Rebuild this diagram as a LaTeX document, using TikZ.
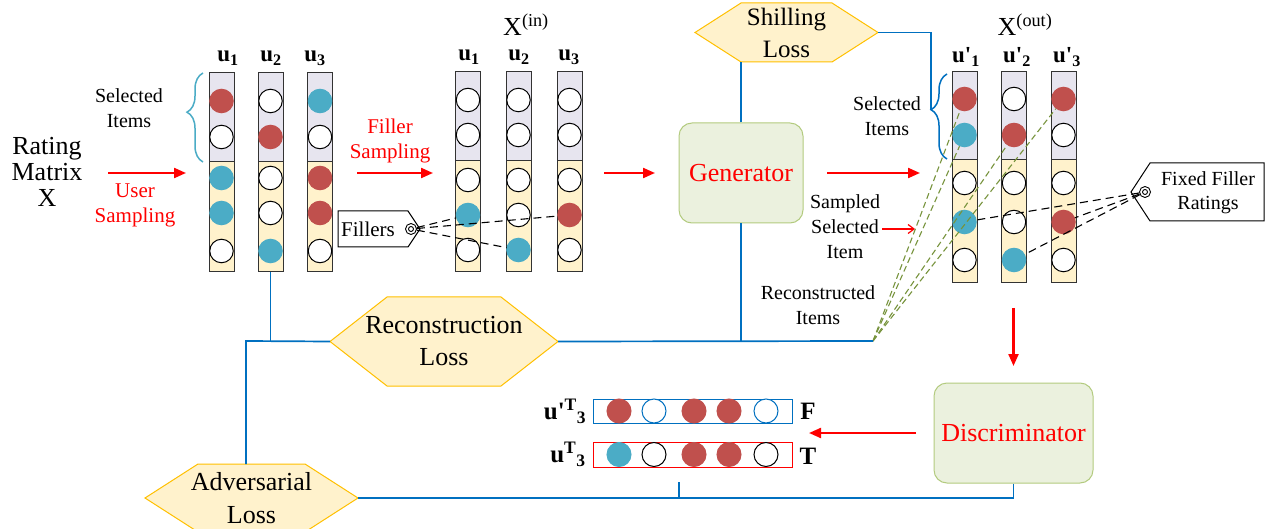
\documentclass[tikz,border=0pt]{standalone}
\usepackage{fontspec}
\setmainfont{Liberation Serif}
\usetikzlibrary{arrows.meta,decorations.pathreplacing,calc}
\pgfdeclarelayer{bg}
\pgfsetlayers{bg,main}
\definecolor{cred}{HTML}{C0504D}
\definecolor{ccyan}{HTML}{4BACC6}
\definecolor{cgray}{HTML}{E7E5EF}
\definecolor{cyel}{HTML}{FFF2CC}
\definecolor{cgold}{HTML}{FFC000}
\definecolor{cblue}{HTML}{0070C0}
\definecolor{cbrace}{HTML}{4BACC6}
\definecolor{cgenf}{HTML}{EBF1DE}
\definecolor{cgend}{HTML}{B3CB7F}
\definecolor{cdash}{HTML}{77933C}
\definecolor{cbord}{HTML}{333333}
\newcommand\myfs[2]{\fontsize{#1}{#2}\selectfont}
\newcommand\hexbg[2]{\begin{pgfonlayer}{bg}\path[hexs] (#1.west) -- ([xshift=#2]#1.north west) -- ([xshift=-#2]#1.north east) -- (#1.east) -- ([xshift=-#2]#1.south east) -- ([xshift=#2]#1.south west) -- cycle;\end{pgfonlayer}}
\newcommand\mkcol[6]{%
  \fill[cgray] (#2-12.5,#3) rectangle (#2+12.5,#4);
  \fill[cyel] (#2-12.5,#4) rectangle (#2+12.5,#5);
  \draw[colborder] (#2-12.5,#3) rectangle (#2+12.5,#5);
  \draw[colborder] (#2-12.5,#4) -- (#2+12.5,#4);
  \coordinate (#1bot) at (#2,#5);
  \foreach \i/\yy/\f/\d in {#6} {\node[ball,fill=\f,draw=\d] (#1\i) at (#2,\yy) {};}
}
\tikzset{
  ball/.style={circle,minimum size=23.5pt,inner sep=0pt,line width=1pt},
  colborder/.style={draw=cbord,line width=1pt},
  redarrow/.style={draw=red,line width=2.2pt,-{Triangle[length=12pt,width=10pt]}},
  thinarrow/.style={draw=red,line width=1.2pt,-{Straight Barb[length=6pt,width=9pt]}},
  bluel/.style={draw=cblue,line width=1.7pt},
  hexs/.style={fill=cyel,draw=cgold,line width=1pt},
  hexnode/.style={rectangle,inner sep=0pt,outer sep=0pt,align=center,font=\myfs{25}{32}},
  modbox/.style={rectangle,rounded corners=13pt,fill=cgenf,draw=cgend,line width=1pt,text=red,font=\myfs{26}{26}},
  lbl/.style={align=center,font=\myfs{20}{25}},
  redlbl/.style={align=center,text=red,font=\myfs{21}{25}},
  ulbl/.style={font=\bfseries\myfs{23}{23},inner sep=0pt},
  blkdash/.style={draw=black,line width=1.1pt,dash pattern=on 8pt off 5pt},
  gdash/.style={draw=cdash,line width=1.1pt,dash pattern=on 6pt off 3.5pt},
  bracel/.style={decorate,decoration={brace,amplitude=16pt,aspect=#1},line width=1.5pt},
  tagp/.style={fill=white,draw=black,line width=1pt},
  tgt/.style={circle,draw=black,minimum size=11pt,inner sep=0pt,line width=0.9pt}
}
\begin{document}
\begin{tikzpicture}[x=1pt,y=-1pt]
\useasboundingbox (0,0) rectangle (1285,529);
\begin{pgfonlayer}{bg}\fill[white] (0,0) rectangle (1285,529);\end{pgfonlayer}

% ---------- left group ----------
\node[align=center,font=\myfs{26}{26}] (rm) at (47,172) {Rating\\Matrix\\X};
\node[lbl] (sel1) at (129,108.5) {Selected\\Items};
\node[redlbl] (us) at (135,205.5) {User\\Sampling};
\coordinate (a1s) at (108,173); \coordinate (a1e) at (186,173);
\draw[redarrow] (a1s) -- (a1e);

\mkcol{L1}{221.5}{73}{162}{272}{1/101/cred/cred,2/137/white/black,3/178/ccyan/ccyan,4/213/ccyan/ccyan,5/251/white/black}
\mkcol{L2}{270.5}{73}{162}{272}{1/101/white/black,2/137/cred/cred,3/178/white/black,4/213/white/black,5/251/ccyan/ccyan}
\mkcol{L3}{320}{73}{162}{272}{1/101/ccyan/ccyan,2/137/white/black,3/178/cred/cred,4/213/cred/cred,5/251/white/black}
\node[ulbl] (Lu1) at (228,58) {u\textsubscript{1}};
\node[ulbl] (Lu2) at (271,58) {u\textsubscript{2}};
\node[ulbl] (Lu3) at (315,58) {u\textsubscript{3}};
\draw[bracel=0.56,draw=cbrace] (203,162) -- (203,73);

% ---------- filler sampling ----------
\node[redlbl] (fs) at (390,140.5) {Filler\\Sampling};
\coordinate (a2s) at (357,173); \coordinate (a2e) at (433,173);
\draw[redarrow] (a2s) -- (a2e);

% ---------- middle group ----------
\mkcol{M1}{468}{72}{161}{272}{1/100/white/black,2/135/white/black,3/180/white/black,4/215/ccyan/ccyan,5/250/white/black}
\mkcol{M2}{518.5}{72}{161}{272}{1/100/white/black,2/135/white/black,3/180/white/black,4/215/white/black,5/250/ccyan/ccyan}
\mkcol{M3}{569.5}{72}{161}{272}{1/100/white/black,2/135/white/black,3/180/white/black,4/215/cred/cred,5/250/white/black}
\node[ulbl] (Mu1) at (469,57) {u\textsubscript{1}};
\node[ulbl] (Mu2) at (519,57) {u\textsubscript{2}};
\node[ulbl] (Mu3) at (569,57) {u\textsubscript{3}};
\node[font=\myfs{26}{26},inner sep=0pt] (xin) at (526,25) {X\textsuperscript{(in)}};

% Fillers tag
\path[tagp] (338,211) -- (408,211) -- (420,229) -- (408,247) -- (338,247) -- cycle;
\node[font=\myfs{21}{21}] (fillers) at (368,229) {Fillers};
\node[tgt] (ftar) at (411,229) {};
\draw[line width=0.9pt] (ftar.center) circle (2.5pt);
\draw[blkdash] (ftar) -- (M14);
\draw[blkdash] (ftar) -- (M34);
\draw[blkdash] (ftar) -- (M25);

% ---------- generator ----------
\coordinate (a3s) at (604,173); \coordinate (a3e) at (655,173);
\draw[redarrow] (a3s) -- (a3e);
\node[modbox,minimum width=124pt,minimum height=100pt] (gen) at (741,173) {Generator};

% Shilling loss
\node[hexnode,minimum width=183pt,minimum height=59pt] (shill) at (786.5,32.5) {Shilling\\Loss};
\hexbg{shill}{46pt}

% ---------- right group ----------
\mkcol{R1}{964.5}{72}{160}{283}{1/99/cred/cred,2/135/ccyan/ccyan,3/183/white/black,4/222/ccyan/ccyan,5/260/white/black}
\mkcol{R2}{1014}{72}{160}{283}{1/99/white/black,2/135/cred/cred,3/183/white/black,4/222/white/black,5/260/ccyan/ccyan}
\mkcol{R3}{1063.5}{72}{160}{283}{1/99/cred/cred,2/135/white/black,3/183/white/black,4/222/cred/cred,5/260/white/black}
\node[ulbl] (Ru1) at (966,57) {u\textquotesingle\textsubscript{1}};
\node[ulbl] (Ru2) at (1017,57) {u\textquotesingle\textsubscript{2}};
\node[ulbl] (Ru3) at (1067,57) {u\textquotesingle\textsubscript{3}};
\node[font=\myfs{26}{26},inner sep=0pt] (xout) at (1025,25) {X\textsuperscript{(out)}};
\draw[bracel=0.58,draw=cblue] (947,159) -- (947,74);
\coordinate (rbtip) at (931,110);
\node[lbl] (sel2) at (887,116) {Selected\\Items};

\coordinate (a4s) at (827,173); \coordinate (a4e) at (920,173);
\draw[redarrow] (a4s) -- (a4e);
\node[lbl] (ssi) at (845,227) {Sampled\\Selected\\Item};
\coordinate (a5s) at (882,229); \coordinate (a5e) at (915,229);
\draw[thinarrow] (a5s) -- (a5e);
\node[lbl] (reci) at (818,305.5) {Reconstructed\\Items};

% Fixed filler ratings tag
\path[tagp] (1131,192) -- (1150,163) -- (1264,163) -- (1264,221) -- (1150,221) -- cycle;
\node[lbl,font=\myfs{20}{24}] (ffr) at (1208,193) {Fixed Filler\\Ratings};
\node[tgt] (rtar) at (1145,192) {};
\draw[line width=0.9pt] (rtar.center) circle (2.5pt);
\draw[blkdash] (rtar) -- (R14);
\draw[blkdash] (rtar) -- (R34);
\draw[blkdash] (rtar) -- (R25);

% reconstructed items dashed lines
\coordinate (conv) at (873,341);
\draw[gdash] (conv) -- (R11);
\draw[gdash] (conv) -- (R12);
\draw[gdash] (conv) -- (R22);
\draw[gdash] (conv) -- (R31);

% ---------- losses ----------
\node[hexnode,font=\myfs{26}{32}, minimum width=228pt,minimum height=89pt] (recon) at (444,341.5) {Reconstruction\\Loss};
\hexbg{recon}{57pt}
\node[hexnode,font=\myfs{26}{33}, minimum width=213pt,minimum height=68pt] (adv) at (251.5,498) {Adversarial\\Loss};
\hexbg{adv}{53pt}

% ---------- discriminator ----------
\coordinate (a6s) at (1013.5,308); \coordinate (a6e) at (1013.5,366);
\draw[redarrow] (a6s) -- (a6e);
\node[modbox,minimum width=159pt,minimum height=100pt] (disc) at (1013.5,433) {Discriminator};
\coordinate (a7s) at (916,433); \coordinate (a7e) at (809,433);
\draw[redarrow] (a7s) -- (a7e);

% rows
\node[draw=cblue,line width=1pt,minimum width=199pt,minimum height=24pt,inner sep=0pt] (rowF) at (692.5,411) {};
\node[draw=red,line width=1pt,minimum width=199pt,minimum height=25pt,inner sep=0pt] (rowT) at (692.5,454.5) {};
\foreach \i/\xx/\f/\d in {1/619/cred/cred,2/654/white/cblue,3/694/cred/cred,4/729/cred/cred,5/766/white/cblue}
  {\node[ball,minimum size=24pt,fill=\f,draw=\d] (F\i) at (\xx,411) {};}
\foreach \i/\xx/\f/\d in {1/619/ccyan/ccyan,2/654/white/black,3/694/cred/cred,4/729/cred/cred,5/766/white/black}
  {\node[ball,minimum size=24pt,fill=\f,draw=\d] (T\i) at (\xx,454.5) {};}
\node[ulbl,font=\bfseries\myfs{25}{25}] (lF) at (565,411) {u\textquotesingle\textsuperscript{T}\textsubscript{3}};
\node[ulbl,font=\bfseries\myfs{25}{25}] (lT) at (568,454.5) {u\textsuperscript{T}\textsubscript{3}};
\node[ulbl,font=\bfseries\myfs{25}{25}] (fF) at (808,411) {F};
\node[ulbl,font=\bfseries\myfs{25}{25}] (fT) at (808,456) {T};

% ---------- blue connectors ----------
\coordinate (jL) at (246,341);
\draw[bluel] (L2bot) -- (L2bot |- recon.west);
\draw[bluel] (recon.west) -- (jL) -- (jL |- adv.north);
\draw[bluel] (recon.east) -- (conv);
\draw[bluel] (gen.south) -- (gen.south |- recon.east);
\draw[bluel] (gen.north) -- (gen.north |- shill.south);
\draw[bluel] (shill.east) -| (rbtip);
\draw[bluel] (disc.south) |- (adv.east);
\coordinate (tick) at (679,482);
\draw[bluel] (tick) -- (tick |- adv.east);
\end{tikzpicture}
\end{document}
